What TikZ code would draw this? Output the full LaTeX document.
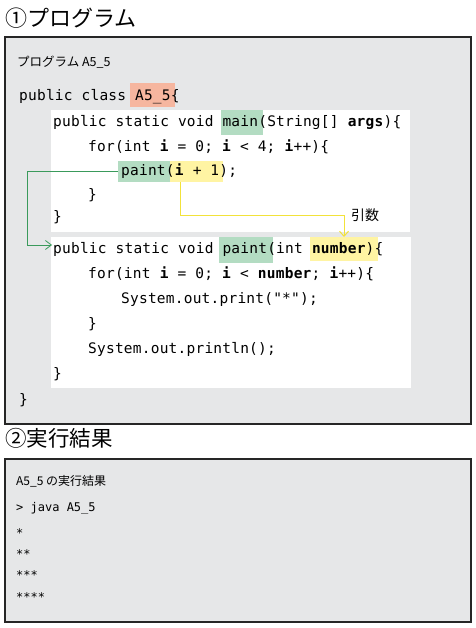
\documentclass[tikz,border=0pt]{standalone}
\usepackage{fontspec}
\setmainfont{Noto Sans CJK JP}
\newfontfamily\codefont{DejaVu Sans Mono}[LetterSpace=1.5]
\newfontfamily\outfont{DejaVu Sans Mono}
\usetikzlibrary{arrows.meta,positioning}
\definecolor{panelgray}{HTML}{E6E7E8}
\definecolor{hlgreen}{HTML}{B3DCC2}
\definecolor{hlsalmon}{HTML}{F6B69F}
\definecolor{hlyellow}{HTML}{FFF4A3}
\definecolor{callgreen}{HTML}{3A9A5B}
\definecolor{argyellow}{HTML}{F2E23A}
\begin{document}
\begin{tikzpicture}[x=1pt,y=-1pt,
    panel/.style={draw=black!85,line width=1.2pt,fill=panelgray},
    heading/.style={anchor=west,inner sep=0,font=\fontsize{22}{24}\selectfont},
    caption/.style={anchor=west,inner sep=0,font=\fontsize{12.5}{14}\selectfont},
    code/.style={anchor=base west,inner sep=0,font=\codefont\fontsize{14.5}{16}\selectfont},
    outline/.style={anchor=base west,inner sep=0,font=\outfont\fontsize{12}{14}\selectfont},
    hl/.style={anchor=north west,inner sep=0,outer sep=0},
    callline/.style={draw=callgreen,line width=0.8pt,-{Straight Barb[length=6pt,width=9pt]}},
    argline/.style={draw=argyellow,line width=1pt,-{Straight Barb[length=5pt,width=9pt]}}]
\useasboundingbox (0,0) rectangle (475,628);
% (1) program
\node[heading] (title1) at (5,18) {①プログラム};
\draw[panel] (5,37) rectangle (471,424);
\node[caption] (cap1) at (17,62) {プログラム A5\_5};
\fill[white] (51,110) rectangle (410,232);
\fill[white] (51,237) rectangle (411,388);
% highlights
\node[hl,fill=hlsalmon,minimum width=45,minimum height=24] (classhl) at (130,83) {};
\node[hl,fill=hlgreen,minimum width=42,minimum height=25] (mainhl) at (221,110) {};
\node[hl,fill=hlgreen,minimum width=52,minimum height=21] (callhl) at (118,161) {};
\node[hl,fill=hlyellow,minimum width=53,minimum height=21] (arghl) at (170,161) {};
\node[hl,fill=hlgreen,minimum width=54,minimum height=26] (defhl) at (219,237) {};
\node[hl,fill=hlyellow,minimum width=68,minimum height=24] (paramhl) at (310,237) {};
% code lines
\node[code] (c1) at (19,101) {public class A5\_5\{};
\node[code] (c2) at (53,127) {public static void main(String[] \textbf{args})\{};
\node[code] (c3) at (88,152) {for(int \textbf{i} = 0; \textbf{i} < 4; \textbf{i}++)\{};
\node[code] (c4) at (121,176) {paint(\textbf{i} + 1);};
\node[code] (c5) at (88,200) {\}};
\node[code] (c6) at (53,222) {\}};
\node[code] (c7) at (53,253) {public static void paint(int \textbf{number})\{};
\node[code] (c8) at (88,278) {for(int \textbf{i} = 0; \textbf{i} < \textbf{number}; \textbf{i}++)\{};
\node[code] (c9) at (121,303) {System.out.print("*");};
\node[code] (c10) at (88,328) {\}};
\node[code] (c11) at (88,353) {System.out.println();};
\node[code] (c12) at (53,378) {\}};
\node[code] (c13) at (19,404) {\}};
% connectors
\coordinate (calldown) at (27,245);
\coordinate (defin) at (52,245);
\draw[callline] (callhl.west) -| (calldown) -- (defin);
\coordinate (argturn) at (344,215);
\draw[argline] ([xshift=10pt]arghl.south west) |- (argturn) -- (paramhl.north);
\node[caption,font=\fontsize{14}{16}\selectfont,right=7pt of argturn] (arglbl) {引数};
% (2) result
\node[heading,font=\fontsize{21.5}{24}\selectfont] (title2) at (5,438) {②実行結果};
\draw[panel] (5,459) rectangle (471,622);
\node[caption,font=\fontsize{12}{14}\selectfont] (cap2) at (16,481) {A5\_5 の実行結果};
\node[outline] (o1) at (16,511) {> java A5\_5};
\node[outline] (o2) at (16,537) {*};
\node[outline] (o3) at (16,558) {**};
\node[outline] (o4) at (16,579) {***};
\node[outline] (o5) at (16,601) {****};
\end{tikzpicture}
\end{document}
